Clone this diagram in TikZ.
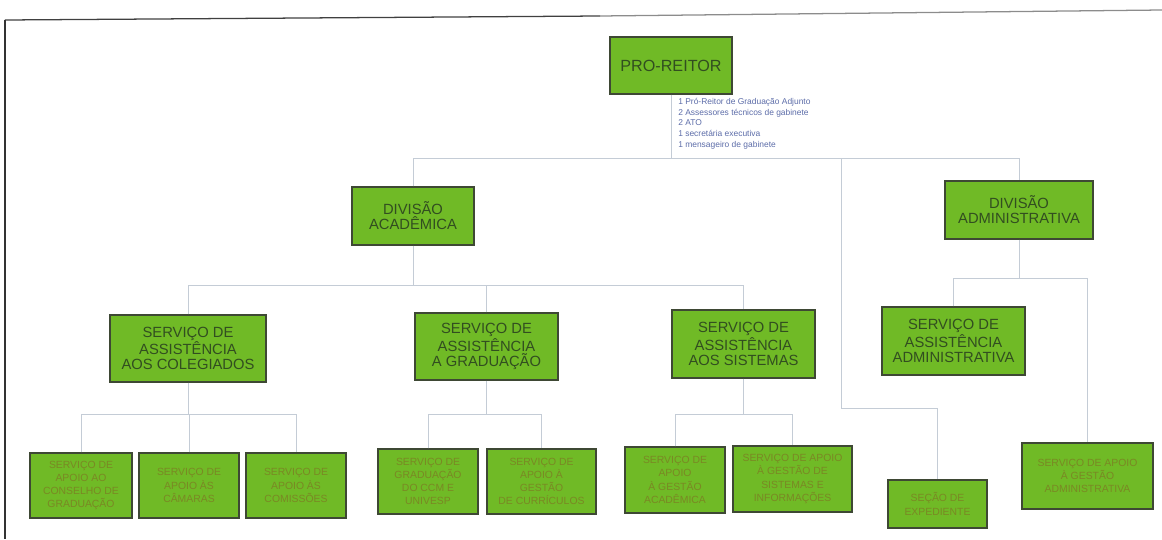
\documentclass[tikz,border=0pt]{standalone}
\usepackage{fontspec}
\setmainfont{Liberation Sans}
\usepackage{xcolor}
\usepackage{tikz}
\usetikzlibrary{positioning, calc}

\definecolor{orgGreen}{RGB}{112,186,38}
\definecolor{orgEdge}{RGB}{62,72,52}
\definecolor{orgText}{RGB}{50,78,32}
\definecolor{orgTextLt}{RGB}{122,136,36}
\definecolor{orgLine}{RGB}{196,204,214}
\definecolor{orgNote}{RGB}{92,108,168}

\tikzset{
  unitbox/.style={draw=orgEdge, line width=0.9pt, fill=orgGreen, align=center,
    inner sep=1pt, text=orgText, font=\fontsize{10.5}{10.6}\selectfont},
  subbox/.style={unitbox, text=orgTextLt, font=\fontsize{7.4}{9.4}\selectfont,
    minimum height=1.625cm},
  link/.style={orgLine, line width=0.7pt},
}

\begin{document}
\begin{tikzpicture}[x=0.025cm, y=-0.025cm]
  \useasboundingbox (0,0) rectangle (1162,539);

  % Scanned page frame
  \draw[black!75, line width=0.9pt] (5,20) -- (600,16);
  \draw[black!45, line width=0.9pt] (600,16) -- (1162,10);
  \draw[black!80, line width=0.9pt] (5,20) -- (5,539);

  % Bus levels
  \coordinate (lvl1) at (0,158);
  \coordinate (lvl2) at (0,285);
  \coordinate (lvl2b) at (0,278);
  \coordinate (lvl3) at (0,414);
  \coordinate (secbend) at (841,408);

  % Top: pro-reitor and staff note
  \node[unitbox, minimum width=3.05cm, minimum height=1.425cm,
    font=\fontsize{11.5}{12}\selectfont] (pro) at (671,65.5) {PRO-REITOR};
  \node[anchor=north west, align=left, text=orgNote, inner sep=0pt,
    font=\fontsize{6}{7.6}\selectfont] (note) at (678,98)
    {1 Pró-Reitor de Graduação Adjunto\\
     2 Assessores técnicos de gabinete\\
     2 ATO\\
     1 secretária executiva\\
     1 mensageiro de gabinete};

  % Divisions
  \node[unitbox, minimum width=3.05cm, minimum height=1.45cm]
    (divac) at (413,216) {DIVISÃO\\ACADÊMICA};
  \node[unitbox, minimum width=3.7cm, minimum height=1.45cm]
    (divadm) at (1019,210) {DIVISÃO\\ADMINISTRATIVA};

  % Services
  \node[unitbox, minimum width=3.9cm, minimum height=1.675cm]
    (sac) at (188,348.5) {SERVIÇO DE\\ASSISTÊNCIA\\AOS COLEGIADOS};
  \node[unitbox, minimum width=3.575cm, minimum height=1.675cm]
    (sag) at (486.5,346.5) {SERVIÇO DE\\ASSISTÊNCIA\\A GRADUAÇÃO};
  \node[unitbox, minimum width=3.575cm, minimum height=1.7cm]
    (sas) at (743.5,344) {SERVIÇO DE\\ASSISTÊNCIA\\AOS SISTEMAS};
  \node[unitbox, minimum width=3.575cm, minimum height=1.7cm]
    (saa) at (953.5,341) {SERVIÇO DE\\ASSISTÊNCIA\\ADMINISTRATIVA};

  % Support units
  \node[subbox, minimum width=2.55cm] (apconselho) at (81,485.5)
    {SERVIÇO DE\\APOIO AO\\CONSELHO DE\\GRADUAÇÃO};
  \node[subbox, minimum width=2.5cm] (apcamaras) at (189,485.5)
    {SERVIÇO DE\\APOIO ÀS\\CÂMARAS};
  \node[subbox, minimum width=2.5cm] (apcomissoes) at (296,485.5)
    {SERVIÇO DE\\APOIO ÀS\\COMISSÕES};
  \node[subbox, minimum width=2.5cm] (grad) at (428,481.5)
    {SERVIÇO DE\\GRADUAÇÃO\\DO CCM E\\UNIVESP};
  \node[subbox, minimum width=2.725cm] (apcurr) at (541.5,481.5)
    {SERVIÇO DE\\APOIO À\\GESTÃO\\DE CURRÍCULOS};
  \node[subbox, minimum width=2.5cm, minimum height=1.65cm] (apacad) at (675,480)
    {SERVIÇO DE\\APOIO\\À GESTÃO\\ACADÊMICA};
  \node[subbox, minimum width=2.975cm, minimum height=1.65cm] (apsist) at (792.5,479)
    {SERVIÇO DE APOIO\\À GESTÃO DE\\SISTEMAS E\\INFORMAÇÕES};
  \node[subbox, minimum width=2.475cm, minimum height=1.2cm] (sec) at (937.5,504)
    {SEÇÃO DE\\EXPEDIENTE};
  \node[subbox, minimum width=3.275cm, minimum height=1.65cm] (apadm) at (1087.5,476)
    {SERVIÇO DE APOIO\\À GESTÃO\\ADMINISTRATIVA};

  % Connectors, top level
  \draw[link] (pro.south) -- (pro.south |- lvl1);
  \draw[link] (divac.north) -- (divac.north |- lvl1) -| (divadm.north);
  \draw[link] (secbend |- lvl1) -- (secbend) -| (sec.north);

  % Connectors, academic division
  \draw[link] (divac.south) -- (divac.south |- lvl2);
  \draw[link] (sac.north) -- (sac.north |- lvl2) -| (sas.north);
  \draw[link] (sag.north) -- (sag.north |- lvl2);

  % Connectors, administrative division
  \draw[link] (divadm.south) -- (divadm.south |- lvl2b);
  \draw[link] (saa.north) -- (saa.north |- lvl2b) -| (apadm.north);

  % Connectors, support units
  \foreach \parent/\first/\mid/\last in {
    sac/apconselho/apcamaras/apcomissoes,
    sag/grad/grad/apcurr,
    sas/apacad/apacad/apsist}{
    \draw[link] (\parent.south) -- (\parent.south |- lvl3);
    \draw[link] (\first.north) -- (\first.north |- lvl3) -| (\last.north);
    \draw[link] (\mid.north) -- (\mid.north |- lvl3);
  }
\end{tikzpicture}
\end{document}
